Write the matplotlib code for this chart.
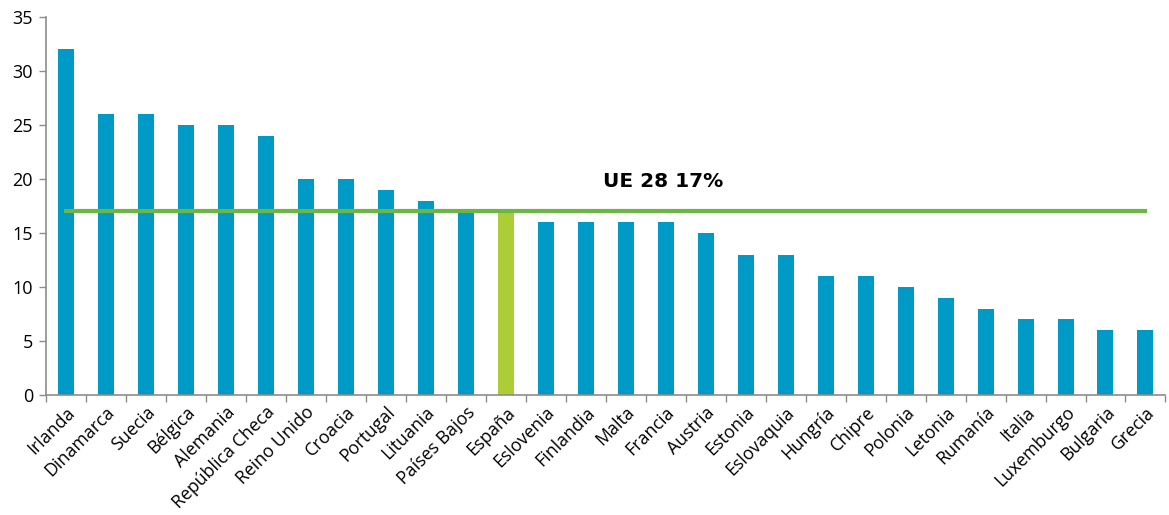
import matplotlib
matplotlib.use("Agg")
import matplotlib.pyplot as plt
from matplotlib.ticker import FixedLocator

countries = ["Irlanda", "Dinamarca", "Suecia", "Bélgica", "Alemania", "República Checa",
             "Reino Unido", "Croacia", "Portugal", "Lituania", "Países Bajos", "España",
             "Eslovenia", "Finlandia", "Malta", "Francia", "Austria", "Estonia",
             "Eslovaquia", "Hungría", "Chipre", "Polonia", "Letonia", "Rumanía",
             "Italia", "Luxemburgo", "Bulgaria", "Grecia"]
values = [32, 26, 26, 25, 25, 24, 20, 20, 19, 18, 17, 17, 16, 16, 16, 16, 15, 13,
          13, 11, 11, 10, 9, 8, 7, 7, 6, 6]
eu_average = 17
eu_label = "UE 28 17%"
highlight = "España"

blue = "#009AC6"
lime = "#ACCD35"
green = "#6BB644"
axis_gray = "#8C8C8C"

fig = plt.figure(figsize=(11.69, 5.15), dpi=100)
ax = fig.add_axes([0.039, 0.233, 0.958, 0.734])

x = list(range(len(countries)))
colors = [lime if c == highlight else blue for c in countries]
ax.bar(x, values, width=0.4, color=colors, zorder=2)

# EU-28 average reference line with its label
ax.plot([x[0] - 0.05, x[-1] + 0.05], [eu_average, eu_average], color=green, lw=3, zorder=3,
        solid_capstyle="butt")
ax.text(14.95, 19.8, eu_label, ha="center", va="center", fontsize=14.5, fontweight="bold",
        family="DejaVu Sans", color="black")

ax.set_xlim(-0.5, len(countries) - 0.5)
ax.set_ylim(0, 35)
ax.set_yticks(range(0, 36, 5))
ax.set_xticks(x)
ax.set_xticklabels(countries, rotation=45, ha="right", rotation_mode="anchor",
                   family="Open Sans", fontsize=12.8)
# tick marks sit between categories
ax.xaxis.set_minor_locator(FixedLocator([i - 0.5 for i in range(len(countries) + 1)]))
ax.tick_params(axis="x", which="major", length=0, pad=6)
ax.tick_params(axis="x", which="minor", length=5, color=axis_gray, width=1)
ax.tick_params(axis="y", length=5, color=axis_gray, width=1, labelsize=13, pad=4)
for lbl in ax.get_yticklabels():
    lbl.set_family("Open Sans")

for side in ("top", "right"):
    ax.spines[side].set_visible(False)
for side in ("left", "bottom"):
    ax.spines[side].set_color(axis_gray)
    ax.spines[side].set_linewidth(1.2)

fig.savefig("out.png", dpi=100)
